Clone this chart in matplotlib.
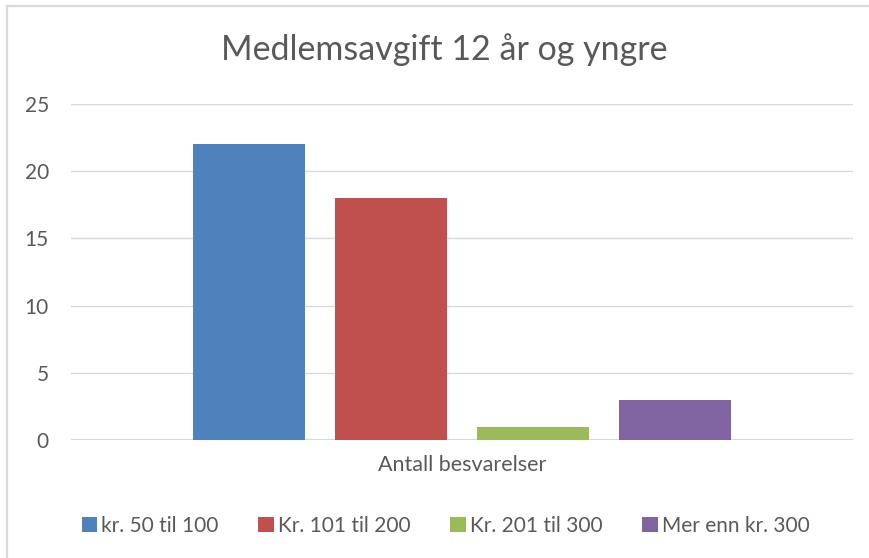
import matplotlib.pyplot as plt
from matplotlib.lines import Line2D

plt.rcParams['font.family'] = ['Lato', 'DejaVu Sans']

# data
series = ['kr. 50 til 100', 'Kr. 101 til 200', 'Kr. 201 til 300', 'Mer enn kr. 300']
values = [22, 18, 1, 3]
colors = ['#4F81BD', '#C0504D', '#9BBB59', '#8064A2']
category = 'Antall besvarelser'
yticks = [0, 5, 10, 15, 20, 25]

txt = '#595959'
grid = '#D9D9D9'

fig = plt.figure(figsize=(8.69, 5.58), dpi=100)
ax = fig.add_axes([71/869, 118/558, 782/869, 336/558])

w = 112/782
gap = 30/782
for i, (s, v, c) in enumerate(zip(series, values, colors)):
    x = 0.5 + (i - 1.5) * (w + gap)
    ax.bar(x, v, width=w, color=c, label=s, zorder=3)

ax.set_xlim(0, 1)
ax.set_ylim(0, 25)
ax.set_yticks(yticks)
ax.set_yticklabels([str(t) for t in yticks], color=txt, fontsize=15)
ax.set_xticks([0.5])
ax.set_xticklabels([category], color=txt, fontsize=15.5)
ax.tick_params(length=0, pad=16, axis='y')
ax.tick_params(length=0, pad=11, axis='x')
ax.grid(axis='y', color=grid, linewidth=1, zorder=0)
ax.axhline(0, color=grid, linewidth=1.6, zorder=1)
for sp in ax.spines.values():
    sp.set_visible(False)

fig.suptitle('Medlemsavgift 12 år og yngre', x=0.511, y=0.94, fontsize=24.5, color=txt)

leg = fig.legend(loc='center', bbox_to_anchor=(0.513, 0.058), ncol=4, frameon=False,
                 fontsize=15, handlelength=0.75, handleheight=0.75, handletextpad=0.2,
                 columnspacing=1.9)
for t in leg.get_texts():
    t.set_color(txt)

# chart border (left and top edges visible)
fig.add_artist(Line2D([7/869, 7/869], [0, 552/558], transform=fig.transFigure, color=grid, linewidth=1.6))
fig.add_artist(Line2D([7/869, 1], [552/558, 552/558], transform=fig.transFigure, color=grid, linewidth=1.6))

fig.savefig('out.png', dpi=100)
